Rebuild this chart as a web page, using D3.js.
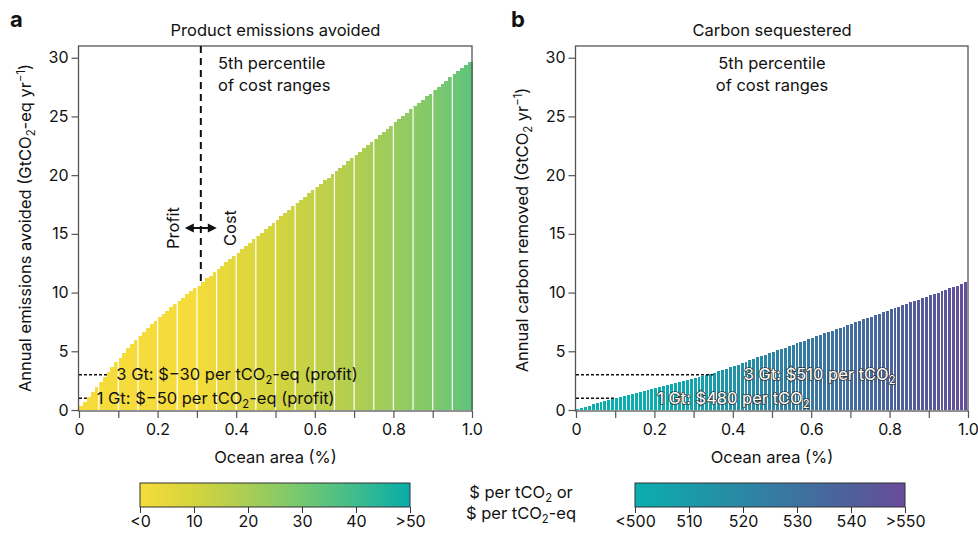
<!DOCTYPE html>
<html>
<head>
<meta charset="utf-8">
<script src="https://cdn.jsdelivr.net/npm/d3@7"></script>
<style>
body { margin: 0; background: #fff; }
text { font-family: Inter, "Open Sans", sans-serif; fill: #111; }
</style>
</head>
<body>
<svg id="chart" width="978" height="536"></svg>
<script>
// cumulative removal / avoidance per 0.01 % of ocean area (bar heights)
var emissionsAvoided = [0.35,0.7,1.08,1.5,1.95,2.4,2.8,3.2,3.65,4.05,
  4.45,4.85,5.25,5.6,5.95,6.3,6.65,7.0,7.3,7.6,
  7.9,8.2,8.45,8.75,9.0,9.3,9.55,9.85,10.1,10.35,
  10.6,10.9,11.2,11.45,11.75,12.0,12.3,12.6,12.85,13.15,
  13.4,13.7,14.0,14.25,14.55,14.8,15.1,15.4,15.65,15.95,
  16.2,16.5,16.8,17.05,17.35,17.6,17.9,18.15,18.45,18.7,
  19.0,19.25,19.55,19.8,20.1,20.35,20.65,20.9,21.2,21.45,
  21.75,22.0,22.3,22.55,22.85,23.1,23.4,23.65,23.95,24.2,
  24.5,24.75,25.05,25.3,25.6,25.85,26.15,26.4,26.7,26.95,
  27.25,27.5,27.8,28.05,28.35,28.6,28.9,29.1,29.35,29.6];

var carbonRemoved = [0.1,0.19,0.29,0.38,0.48,0.57,0.67,0.76,0.86,0.95,
  1.04,1.12,1.21,1.3,1.38,1.47,1.55,1.63,1.72,1.8,
  1.88,1.96,2.04,2.12,2.2,2.28,2.36,2.45,2.54,2.63,
  2.72,2.81,2.9,2.99,3.08,3.18,3.29,3.4,3.52,3.64,
  3.76,3.87,4.0,4.12,4.23,4.36,4.48,4.6,4.71,4.84,
  4.96,5.08,5.19,5.32,5.44,5.55,5.68,5.8,5.91,6.04,
  6.16,6.27,6.4,6.52,6.63,6.76,6.88,7.0,7.11,7.24,
  7.36,7.47,7.6,7.72,7.83,7.96,8.08,8.2,8.31,8.44,
  8.56,8.67,8.8,8.92,9.03,9.16,9.28,9.4,9.51,9.64,
  9.76,9.87,10.0,10.12,10.23,10.36,10.48,10.6,10.72,10.86];

var barStep = 0.01;

// cost along the ocean area axis
var costArea = [0,0.1,0.2,0.3,0.4,0.5,0.6,0.7,0.8,0.9,1.0];
var costA = [-80,-25,-10,-1,6,10,14,18,23,28,34];
var costB = [465,480,493,505,514,521,527,533,538,543,548];

// colour bars
var legendValsA = [0,10,20,30,40,50];
var legendLabelsA = ["<0","10","20","30","40",">50"];
var legendColorsA = ["#f6dc3b","#d5d43d","#a9cd55","#74c871","#3fbc8e","#06aca8"];
var legendValsB = [500,510,520,530,540,550];
var legendLabelsB = ["<500","510","520","530","540",">550"];
var legendColorsB = ["#09afae","#1a9ba9","#2b87a4","#3c739f","#4f5f9a","#6a4b9b"];

var yTicks = [0,5,10,15,20,25,30];
var xTicks = [0,0.1,0.2,0.3,0.4,0.5,0.6,0.7,0.8,0.9,1.0];

var FS = 16.5, TFS = 16;

var svg = d3.select("#chart");
var defs = svg.append("defs");

var colorA = d3.scaleLinear().domain(legendValsA).range(legendColorsA).clamp(true);
var colorB = d3.scaleLinear().domain(legendValsB).range(legendColorsB).clamp(true);

var y = d3.scaleLinear().domain([0, 31]).range([410, 46]);

// text with sub/superscripts: parts = [[text, "sub"|"sup"|undefined], ...]
function rich(t, parts) {
  var shift = 0;
  parts.forEach(function(p) {
    var s = t.append("tspan").text(p[0]);
    var want = p[1] === "sub" ? 4 : p[1] === "sup" ? -6 : 0;
    if (want !== shift) s.attr("dy", want - shift);
    if (p[1]) s.attr("font-size", "0.68em");
    shift = want;
  });
  return t;
}

function panel(opt) {
  var x = d3.scaleLinear().domain([0, 1]).range(opt.range);
  var g = svg.append("g");

  // gradient of cost along x
  var grad = defs.append("linearGradient").attr("id", opt.id)
    .attr("gradientUnits", "userSpaceOnUse")
    .attr("x1", x(0)).attr("x2", x(1)).attr("y1", 0).attr("y2", 0);
  grad.selectAll("stop").data(costArea).enter().append("stop")
    .attr("offset", function(d) { return d; })
    .attr("stop-color", function(d, i) { return opt.color(opt.cost[i]); });

  g.selectAll(".bar").data(opt.values).enter().append("rect")
    .attr("class", "bar")
    .attr("x", function(d, i) { return x(i * barStep); })
    .attr("width", function(d, i) { return x((i + 1) * barStep) - x(i * barStep) + opt.overlap; })
    .attr("y", function(d) { return y(d); })
    .attr("height", function(d) { return y(0) - y(d); })
    .attr("fill", "url(#" + opt.id + ")")
    .attr("shape-rendering", "crispEdges");

  // white separators
  var seps = d3.range(opt.sepEvery, opt.values.length, opt.sepEvery);
  g.selectAll(".sep").data(seps).enter().append("line")
    .attr("x1", function(i) { return x(i * barStep); })
    .attr("x2", function(i) { return x(i * barStep); })
    .attr("y1", y(0))
    .attr("y2", function(i) { return y(opt.values[i]); })
    .attr("stroke", "#fff").attr("stroke-width", 1.2);

  // frame
  g.append("rect")
    .attr("x", x(0) - 0.5).attr("y", y(31))
    .attr("width", x(1) - x(0) + 0.5).attr("height", y(0) - y(31) + 1)
    .attr("fill", "none").attr("stroke", "#555").attr("stroke-width", 1.3);

  // axes
  var ya = g.append("g").attr("transform", "translate(" + (x(0) - 0.5) + ",0)")
    .call(d3.axisLeft(y).tickValues(yTicks).tickSize(7).tickPadding(3));
  var xa = g.append("g").attr("transform", "translate(0," + (y(0) + 1) + ")")
    .call(d3.axisBottom(x).tickValues(xTicks).tickSize(7).tickPadding(6)
      .tickFormat(function(d) {
        var k = Math.round(d * 10);
        if (k % 2) return "";
        return k === 0 ? "0" : d.toFixed(1);
      }));
  [ya, xa].forEach(function(a) {
    a.select(".domain").remove();
    a.selectAll(".tick line").attr("stroke", "#555").attr("stroke-width", 1.2);
    a.selectAll(".tick text").attr("font-size", TFS).attr("fill", "#222")
      .style("font-family", "Inter, sans-serif");
  });

  // titles
  g.append("text").attr("x", opt.letterX).attr("y", 27)
    .attr("font-size", 22).attr("font-weight", 700).text(opt.letter);
  g.append("text").attr("x", (x(0) + x(1)) / 2).attr("y", 36)
    .attr("text-anchor", "middle").attr("font-size", FS).text(opt.title);
  g.append("text").attr("x", (x(0) + x(1)) / 2).attr("y", 463)
    .attr("text-anchor", "middle").attr("font-size", FS).text("Ocean area (%)");
  rich(g.append("text")
    .attr("transform", "translate(" + opt.yTitleX + "," + opt.yTitleY + ") rotate(-90)")
    .attr("text-anchor", "middle").attr("font-size", FS), opt.yTitle);

  // percentile note
  var note = g.append("text").attr("x", opt.noteX).attr("text-anchor", opt.noteAnchor)
    .attr("font-size", FS);
  note.append("tspan").attr("x", opt.noteX).attr("y", 69).text("5th percentile");
  note.append("tspan").attr("x", opt.noteX).attr("y", 91).text("of cost ranges");

  // threshold lines
  opt.gt.forEach(function(t) {
    g.append("line")
      .attr("x1", x(0)).attr("x2", x(t.area))
      .attr("y1", y(t.level)).attr("y2", y(t.level))
      .attr("stroke", "#111").attr("stroke-width", 1.5).attr("stroke-dasharray", "3,2");
    var lab = g.append("text").attr("x", x(t.labelAt)).attr("y", y(t.level) + 5.5)
      .attr("font-size", FS);
    if (opt.outline) {
      lab.style("fill", "#fff").attr("stroke", "#333").attr("stroke-width", 1.6)
        .attr("paint-order", "stroke").attr("stroke-linejoin", "round");
    }
    rich(lab, t.text);
  });
  return { g: g, x: x };
}

var A = panel({
  id: "gradA", range: [79, 472], values: emissionsAvoided, overlap: 0.6, sepEvery: 5,
  cost: costA, color: colorA, letter: "a", letterX: 10,
  title: "Product emissions avoided",
  yTitle: [["Annual emissions avoided (GtCO"], ["2", "sub"], ["-eq yr"], ["\u22121", "sup"], [")"]],
  yTitleX: 31, yTitleY: 228,
  noteX: 218, noteAnchor: "start", outline: false,
  gt: [
    { level: 3, area: 0.075, labelAt: 0.095, text: [["3 Gt: $\u221230 per tCO"], ["2", "sub"], ["-eq (profit)"]] },
    { level: 1, area: 0.02, labelAt: 0.045, text: [["1 Gt: $\u221250 per tCO"], ["2", "sub"], ["-eq (profit)"]] }
  ]
});

var B = panel({
  id: "gradB", range: [576, 968], values: carbonRemoved, overlap: -1, sepEvery: 1000,
  cost: costB, color: colorB, letter: "b", letterX: 511,
  title: "Carbon sequestered",
  yTitle: [["Annual carbon removed (GtCO"], ["2", "sub"], [" yr"], ["\u22121", "sup"], [")"]],
  yTitleX: 528, yTitleY: 230,
  noteX: 772, noteAnchor: "middle", outline: true,
  gt: [
    { level: 3, area: 0.35, labelAt: 0.428, text: [["3 Gt: $510 per tCO"], ["2", "sub"]] },
    { level: 1, area: 0.1, labelAt: 0.207, text: [["1 Gt: $480 per tCO"], ["2", "sub"]] }
  ]
});

// profit / cost divider in panel a
var profitArea = 0.31;
var xd = A.x(profitArea);
A.g.append("line").attr("x1", xd).attr("x2", xd)
  .attr("y1", y(31)).attr("y2", y(emissionsAvoided[30]))
  .attr("stroke", "#111").attr("stroke-width", 2).attr("stroke-dasharray", "7,5");
var ay = y(15.5);
A.g.append("line").attr("x1", xd - 12).attr("x2", xd + 12).attr("y1", ay).attr("y2", ay)
  .attr("stroke", "#111").attr("stroke-width", 2);
A.g.append("path").attr("d", "M" + (xd - 16) + "," + ay + "l9,-4.5v9z").attr("fill", "#111");
A.g.append("path").attr("d", "M" + (xd + 16) + "," + ay + "l-9,-4.5v9z").attr("fill", "#111");
A.g.append("text").attr("transform", "translate(" + (xd - 22) + "," + ay + ") rotate(-90)")
  .attr("text-anchor", "middle").attr("font-size", FS).text("Profit");
A.g.append("text").attr("transform", "translate(" + (xd + 35) + "," + ay + ") rotate(-90)")
  .attr("text-anchor", "middle").attr("font-size", FS).text("Cost");

// colour legends
function legend(id, x0, x1, vals, labels, colors) {
  var s = d3.scaleLinear().domain([vals[0], vals[vals.length - 1]]).range([x0, x1]);
  var grad = defs.append("linearGradient").attr("id", id);
  grad.selectAll("stop").data(vals).enter().append("stop")
    .attr("offset", function(d) { return (d - vals[0]) / (vals[vals.length - 1] - vals[0]); })
    .attr("stop-color", function(d, i) { return colors[i]; });
  var g = svg.append("g");
  g.append("rect").attr("x", x0).attr("y", 483).attr("width", x1 - x0).attr("height", 24)
    .attr("fill", "url(#" + id + ")").attr("stroke", "#333").attr("stroke-width", 1);
  var ax = g.append("g").attr("transform", "translate(0,507)")
    .call(d3.axisBottom(s).tickValues(vals).tickSize(6).tickPadding(3)
      .tickFormat(function(d, i) { return labels[i]; }));
  ax.select(".domain").remove();
  ax.selectAll(".tick line").attr("stroke", "#333");
  ax.selectAll(".tick text").attr("font-size", TFS).attr("fill", "#222")
    .style("font-family", "Inter, sans-serif");
}
legend("legA", 140, 410, legendValsA, legendLabelsA, legendColorsA);
legend("legB", 635, 905, legendValsB, legendLabelsB, legendColorsB);

rich(svg.append("text").attr("x", 521).attr("y", 498).attr("text-anchor", "middle")
  .attr("font-size", FS), [["$ per tCO"], ["2", "sub"], [" or"]]);
rich(svg.append("text").attr("x", 521).attr("y", 519).attr("text-anchor", "middle")
  .attr("font-size", FS), [["$ per tCO"], ["2", "sub"], ["-eq"]]);
</script>
</body>
</html>
